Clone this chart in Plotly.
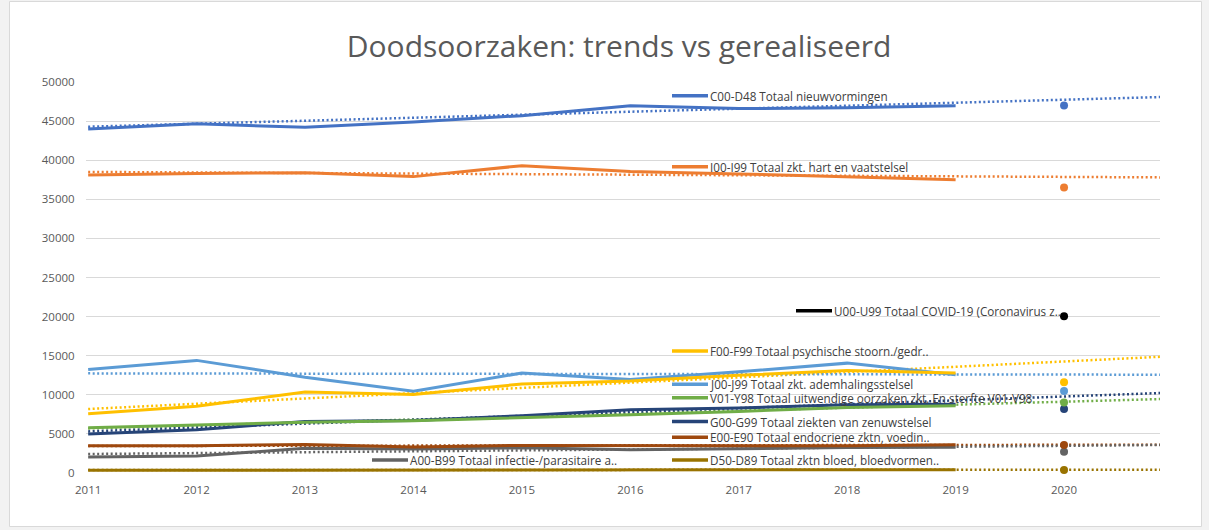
import plotly.graph_objects as go

# ---------------- data ----------------
years = [2011, 2012, 2013, 2014, 2015, 2016, 2017, 2018, 2019]
year_2020 = [2020]
trend_x = [2011, 2020.9]

names = [
    "C00-D48 Totaal nieuwvormingen",
    "I00-I99 Totaal zkt. hart en vaatstelsel",
    "U00-U99 Totaal COVID-19 (Coronavirus z..",
    "F00-F99 Totaal psychische stoorn./gedr..",
    "J00-J99 Totaal zkt. ademhalingsstelsel",
    "V01-Y98 Totaal uitwendige oorzaken zkt. En sterfte V01-V98",
    "G00-G99 Totaal ziekten van zenuwstelsel",
    "E00-E90 Totaal endocriene zktn, voedin..",
    "A00-B99 Totaal infectie-/parasitaire a..",
    "D50-D89 Totaal zktn bloed, bloedvormen..",
]

c00 = [44000, 44650, 44200, 44900, 45700, 46950, 46600, 46700, 46950]
i00 = [38100, 38300, 38400, 37900, 39300, 38550, 38250, 37850, 37500]
u00 = []
f00 = [7580, 8550, 10350, 10050, 11380, 11750, 12500, 13100, 12800]
j00 = [13250, 14400, 12250, 10450, 12780, 11950, 12950, 14050, 12550]
v01 = [5790, 6180, 6500, 6690, 7030, 7460, 7880, 8380, 8600]
g00 = [5000, 5540, 6600, 6700, 7330, 8100, 8300, 8730, 8780]
e00 = [3490, 3480, 3650, 3330, 3530, 3500, 3420, 3480, 3600]
a00 = [2050, 2170, 3150, 3060, 3230, 2980, 3110, 3250, 3280]
d50 = [340, 350, 370, 360, 380, 390, 400, 410, 420]

real_2020 = [47000, 36520, 20030, 11590, 10490, 9030, 8180, 3580, 2720, 380]

trend_start = [44280, 38500, None, 8180, 12740, 5700, 5320, 3450, 2430, 380]
trend_end = [48080, 37800, None, 14870, 12570, 9460, 10230, 3620, 3580, 420]

colors = ["#4472C4", "#ED7D31", "#000000", "#FFC000", "#5B9BD5",
          "#70AD47", "#264478", "#9E480E", "#636363", "#997300"]

series = [c00, i00, u00, f00, j00, v01, g00, e00, a00, d50]

# ---------------- figure ----------------
FONT = "Open Sans"
W, H = 1209, 530
L, R, T, B = 86, 49, 82, 57
PW, PH = W - L - R, H - T - B


def px(x):
    return (x - L) / PW


def py(y):
    return (H - B - y) / PH


fig = go.Figure()

# trendlines (dotted)
for i in range(len(names)):
    if trend_start[i] is None:
        continue
    fig.add_trace(go.Scatter(
        x=trend_x, y=[trend_start[i], trend_end[i]], mode="lines",
        line=dict(color=colors[i], width=2.5, dash="2px,2.5px"),
        hoverinfo="skip", showlegend=False))

# realised series
for i in reversed(range(len(names))):
    if series[i]:
        fig.add_trace(go.Scatter(
            x=years, y=series[i], mode="lines", name=names[i],
            line=dict(color=colors[i], width=3), showlegend=False))

# 2020 points
for i in reversed(range(len(names))):
    fig.add_trace(go.Scatter(
        x=year_2020, y=[real_2020[i]], mode="markers",
        marker=dict(color=colors[i], size=8), showlegend=False,
        name=names[i] + " 2020", cliponaxis=False))

# legend-like labels (key line + text), positions in pixels
label_pos = [
    (672, 95.7), (672, 166.7), (796, 310.7), (672, 351), (672, 384.3),
    (672, 397.7), (672, 421.5), (672, 437.3), (372, 460), (672, 460),
]
shapes = [
    dict(type="rect", xref="paper", yref="paper",
         x0=px(9.5), x1=px(1201.5), y0=py(526.5), y1=py(1.5),
         fillcolor="white", line=dict(color="#d9d9d9", width=1), layer="below"),
]
annotations = []
for i, (lx, ly) in enumerate(label_pos):
    shapes.append(dict(type="line", xref="paper", yref="paper",
                       x0=px(lx), x1=px(lx + 36), y0=py(ly), y1=py(ly),
                       line=dict(color=colors[i], width=3.5)))
    annotations.append(dict(
        xref="paper", yref="paper", x=px(lx + 36), y=py(ly),
        xanchor="left", yanchor="middle", showarrow=False,
        text=names[i], font=dict(family=FONT, size=11.7, color="#404040")))

fig.update_layout(
    width=W, height=H,
    margin=dict(l=L, r=R, t=T, b=B),
    paper_bgcolor="#f2f2f2",
    plot_bgcolor="white",
    title=dict(text="Doodsoorzaken: trends vs gerealiseerd",
               x=px(636), xanchor="center", y=1 - 46 / H, yanchor="middle",
               font=dict(family=FONT, size=30, color="#595959")),
    shapes=shapes,
    annotations=annotations,
    xaxis=dict(range=[2010.98, 2020.885], tickvals=[2011, 2012, 2013, 2014, 2015,
                                                  2016, 2017, 2018, 2019, 2020],
               showgrid=False, zeroline=False, showline=False,
               ticks="outside", ticklen=6, tickcolor="rgba(0,0,0,0)",
               tickfont=dict(family=FONT, size=11.5, color="#595959")),
    yaxis=dict(range=[0, 50000], tickvals=list(range(0, 50001, 5000)),
               tickformat="d",
               showgrid=True, gridcolor="#d9d9d9", gridwidth=1, zeroline=False,
               showline=False, ticks="outside", ticklen=8,
               tickcolor="rgba(0,0,0,0)",
               tickfont=dict(family=FONT, size=11.5, color="#595959")),
    hovermode="closest",
)

fig.write_html("out.html",
               config={"displayModeBar": False},
               post_script="document.body.style.margin='0';"
                           "document.body.style.overflow='hidden';")
